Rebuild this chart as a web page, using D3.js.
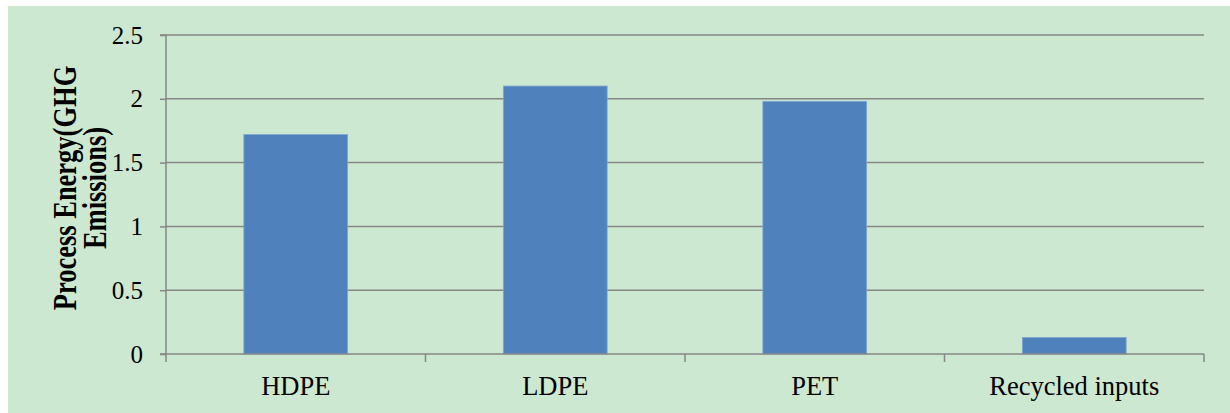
<!DOCTYPE html>
<html><head><meta charset="utf-8">
<script src="https://cdn.jsdelivr.net/npm/d3@7"></script>
<style>html,body{margin:0;padding:0;background:#fff;}svg{display:block;}</style>
</head><body>
<svg id="c" width="1230" height="413"></svg>
<script>
const categories = ["HDPE", "LDPE", "PET", "Recycled inputs"];
const values = [1.72, 2.1, 1.98, 0.13];
const yTicks = [0, 0.5, 1, 1.5, 2, 2.5];
const yTickLabels = ["0", "0.5", "1", "1.5", "2", "2.5"];
const yTitleLines = ["Process Energy(GHG", "Emissions)"];

const svg = d3.select("#c");
svg.append("rect").attr("x", 8).attr("y", 6).attr("width", 1222).attr("height", 407).attr("fill", "#CDE8D0");

const pL = 166, pR = 1204, pT = 35, pB = 354;
const x = d3.scaleBand().domain(categories).range([pL, pR]).paddingInner(0).paddingOuter(0);
const y = d3.scaleLinear().domain([0, 2.5]).range([pB, pT]);
const grey = "#868686";
const font = "'Liberation Serif', 'Times New Roman', serif";

// gridlines
svg.append("g").selectAll("line").data(yTicks.filter(d => d > 0)).join("line")
  .attr("x1", pL).attr("x2", pR)
  .attr("y1", d => y(d)).attr("y2", d => y(d))
  .attr("stroke", grey).attr("stroke-width", 1.5);

// bars
const bw = x.bandwidth() * 0.4;
svg.append("g").selectAll("rect").data(values).join("rect")
  .attr("x", (d, i) => x(categories[i]) + (x.bandwidth() - bw) / 2)
  .attr("width", bw)
  .attr("y", d => y(d))
  .attr("height", d => y(0) - y(d))
  .attr("fill", "#4F81BD")
  .attr("stroke", "#7FA7CF").attr("stroke-width", 0.8);

// y axis
const yAxis = d3.axisLeft(y).tickValues(yTicks).tickFormat((d, i) => yTickLabels[i]).tickSize(6).tickPadding(17);
const gy = svg.append("g").attr("transform", `translate(${pL},0)`).call(yAxis);
gy.select(".domain").attr("stroke", grey).attr("stroke-width", 1.5).attr("d", `M-6,${pT}H0V${pB}H-6`);
gy.selectAll(".tick line").attr("stroke", grey).attr("stroke-width", 1.5);
gy.selectAll(".tick text").attr("font-family", font).attr("font-size", 25).attr("fill", "#000");

// x axis
const xAxis = d3.axisBottom(x).tickSize(0).tickPadding(22);
const gx = svg.append("g").attr("transform", `translate(0,${pB})`).call(xAxis);
gx.select(".domain").attr("stroke", grey).attr("stroke-width", 1.5).attr("d", `M${pL},0H${pR}`);
gx.selectAll(".tick text").attr("font-family", font).attr("font-size", 26.5).attr("fill", "#000").attr("dy", "0.71em");
// category boundary ticks
const bounds = categories.map(c => x(c)).concat([pR]);
svg.append("g").selectAll("line").data(bounds).join("line")
  .attr("x1", d => d).attr("x2", d => d).attr("y1", pB).attr("y2", pB + 8)
  .attr("stroke", grey).attr("stroke-width", 1.5);

// y title
const t = svg.append("text").attr("transform", `translate(76,188) rotate(-90) scale(1,1.3)`)
  .attr("text-anchor", "middle").attr("font-family", font).attr("font-size", 26.5).attr("font-weight", "bold").attr("fill", "#000");
t.selectAll("tspan").data(yTitleLines).join("tspan").attr("x", 0).attr("dy", (d, i) => i === 0 ? 0 : 23).text(d => d);
</script>
</body></html>
